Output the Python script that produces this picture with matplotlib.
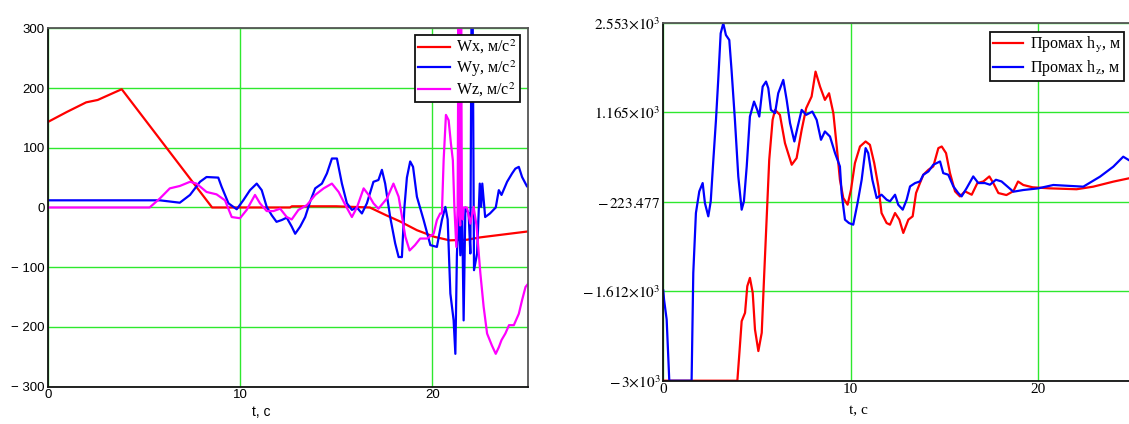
import matplotlib
matplotlib.use("Agg")
import matplotlib.pyplot as plt

plt.rcParams['mathtext.fontset'] = 'stix'

# ---- left plot: W components, м/с^2 ----
t_wx = [0, 1, 2, 2.6, 3.85, 8.55, 12.6, 12.7, 15.0, 16.75, 17.6, 18.3, 19.2, 20.1,
        20.9, 21.8, 22.5, 23.5, 25]
wx = [143, 160, 176, 180, 198, 0, 0, 2, 2, 0, -13, -23, -38, -49,
      -55, -54, -50, -46, -40]

t_wy = [0, 5.3, 5.83, 6.87, 7.4, 7.92, 8.26, 8.87, 9.04, 9.4, 9.83, 10.17, 10.52,
        10.87, 11.13, 11.39, 11.65, 11.9, 12.17, 12.43, 12.69, 12.87, 13.13, 13.39,
        13.65, 13.91, 14.26, 14.52, 14.78, 15.04, 15.3, 15.56, 15.82, 16.08, 16.34,
        16.6, 16.94, 17.2, 17.38, 17.55, 17.81, 18.07, 18.25, 18.42, 18.55, 18.68,
        18.85, 19.0, 19.2, 19.55, 19.9, 20.24, 20.5, 20.68, 20.8, 20.94, 21.11, 21.2,
        21.28, 21.37, 21.46, 21.55, 21.63, 21.72, 21.89, 21.98, 22.04, 22.1, 22.17,
        22.33, 22.47, 22.54, 22.6, 22.75, 23.0, 23.3, 23.46, 23.6, 23.89, 24.15,
        24.32, 24.5, 24.67, 24.93, 25.0]
wy = [12, 12, 12, 8, 21, 43, 51, 50, 35, 7, -3, 12, 29,
      40, 29, 1, -13, -24, -21, -17, -32, -44, -32, -16,
      10, 32, 40, 57, 82, 82, 40, 7, -4, 0, -10,
      7, 43, 46, 63, 40, -16, -60, -83, -83, 0, 50,
      77, 68, 18, -21, -63, -66, -21, 1, -20, -144, -189, -245,
      -80, 0, -80, 0, -189, 0, -10, -77, 330, 330, -105,
      -77, 40, 1, 40, -16, -10, 0, 29, 21, 43, 57,
      65, 68, 51, 35, 38]

t_wz = [0, 5.3, 5.83, 6.35, 6.87, 7.4, 7.74, 8.26, 8.78, 9.22, 9.57, 10.0, 10.35,
        10.78, 11.04, 11.39, 11.74, 12.09, 12.43, 12.69, 13.04, 13.48, 13.91, 14.35,
        14.78, 15.13, 15.48, 15.82, 16.08, 16.43, 16.69, 16.94, 17.2, 17.64, 17.98,
        18.25, 18.6, 18.82, 19.1, 19.37, 19.72, 20.07, 20.24, 20.41, 20.5, 20.59,
        20.71, 20.85, 20.97, 21.07, 21.15, 21.25, 21.32, 21.36, 21.4, 21.45, 21.5,
        21.54, 21.58, 21.63, 21.8, 21.98, 22.15, 22.3, 22.5, 22.67, 22.85, 23.1,
        23.3, 23.46, 23.6, 23.8, 23.99, 24.24, 24.5, 24.67, 24.85, 25.0]
wz = [0, 0, 15, 32, 36, 43, 40, 26, 22, 12, -16, -18, -4,
      21, 7, -6, -6, -2, -16, -20, -4, 4, 21, 32,
      40, 26, 4, -16, 0, 32, 21, 7, -2, 15, 40,
      18, -49, -72, -63, -52, -52, -44, -21, -10, -10, 79,
      155, 146, 107, 79, 0, -66, 0, 330, 0, -30, 330,
      0, -20, 0, 0, -27, 1, -30, -110, -166, -211, -231,
      -245, -234, -222, -211, -197, -197, -178, -155, -133, -127]

left_yticks = [-300, -200, -100, 0, 100, 200, 300]
left_yticklabels = ['\u2212 300', '\u2212 200', '\u2212 100', '0', '100', '200', '300']

# ---- right plot: misses h_y, h_z, м ----
t_hy = [0, 3.95, 4.06, 4.18, 4.36, 4.48, 4.62, 4.77, 4.89, 5.07, 5.25, 5.37, 5.51,
        5.65, 5.83, 5.96, 6.22, 6.49, 6.85, 7.11, 7.38, 7.62, 7.91, 8.12, 8.36,
        8.62, 8.84, 9.07, 9.25, 9.42, 9.6, 9.83, 10.01, 10.22, 10.49, 10.79, 11.02,
        11.25, 11.47, 11.64, 11.91, 12.09, 12.36, 12.59, 12.8, 13.07, 13.3, 13.48,
        13.69, 13.87, 14.14, 14.4, 14.67, 14.85, 15.08, 15.29, 15.56, 15.82, 16.09,
        16.45, 16.75, 17.07, 17.39, 17.6, 17.87, 18.3, 18.67, 18.92, 19.2, 19.7,
        20.6, 22.04, 22.93, 24.0, 24.84, 25.0]
hy = [-3000, -3000, -2566, -2076, -1947, -1534, -1405, -1637, -2205, -2540, -2257, -1431, -502,
      427, 1046, 1201, 1124, 685, 350, 453, 891, 1227, 1408, 1795, 1562,
      1356, 1459, 1150, 633, 117, -166, -270, -38, 375, 633, 711, 659,
      375, 14, -399, -554, -580, -399, -502, -708, -502, -450, -89,
      66, 195, 272, 324, 608, 633, 530, 220, -63, -141, -63,
      -115, 66, 91, 169, 66, -89, -120, -60, 90, 36, 0,
      -16, -30, 10, 88, 140, 150]

t_hz = [0, 0.04, 0.18, 0.32, 1.51, 1.6, 1.74, 1.92, 2.1, 2.22, 2.4, 2.53, 2.67,
        2.81, 2.93, 3.06, 3.2, 3.34, 3.52, 3.64, 3.82, 4.0, 4.18, 4.3, 4.45, 4.62,
        4.84, 5.01, 5.12, 5.3, 5.48, 5.6, 5.74, 5.96, 6.13, 6.4, 6.58, 6.76, 6.99,
        7.17, 7.38, 7.62, 7.95, 8.18, 8.41, 8.62, 8.89, 9.16, 9.42, 9.51, 9.69,
        9.9, 10.13, 10.36, 10.58, 10.79, 10.93, 11.15, 11.38, 11.64, 11.91, 12.09,
        12.36, 12.53, 12.77, 12.98, 13.16, 13.43, 13.69, 13.87, 14.14, 14.4, 14.76,
        14.93, 15.2, 15.47, 15.73, 15.91, 16.18, 16.53, 16.8, 17.15, 17.42, 17.74,
        18.04, 18.67, 19.2, 20.0, 20.8, 22.4, 23.29, 24.0, 24.53, 24.84, 25.0]
hz = [-1600, -1741, -2050, -3000, -3000, -1328, -399, -63, 66, -244, -450, -218, 427,
      1046, 1666, 2388, 2543, 2362, 2285, 1820, 1046, 169, -347, -218, 324, 1098,
      1330, 1201, 1098, 1562, 1640, 1537, 1201, 1150, 1459, 1666, 1356, 995, 711,
      943, 1201, 1124, 1175, 1046, 737, 866, 788, 530, 324, -89, -502,
      -554, -580, -244, 117, 608, 530, 117, -166, -115, -192, -218,
      -115, -270, -347, -192, 14, 66, 91, 195, 246, 350, 401,
      220, 195, 14, -89, -141, -12, 169, 66, 66, 40, 117,
      91, -68, -42, -16, 36, 10, 165, 320, 475, 420, 400]

right_yticks = [-3000, -1611.75, -223.5, 1164.75, 2553]
right_yticklabels = [r'$-\,3{\times}10^{3}$', r'$-\,1.612{\times}10^{3}$',
                     r'$-\,223.477$', r'$1.165{\times}10^{3}$', r'$2.553{\times}10^{3}$']

xticks = [0, 10, 20]

fig = plt.figure(figsize=(11.29, 4.24), dpi=100)

grid_color = '#2ee82e'


def style_axes(ax):
    ax.grid(True, color=grid_color, linewidth=1.0)
    ax.set_axisbelow(True)
    ax.tick_params(length=0)
    for side in ['top', 'right']:
        ax.spines[side].set_color('#555555')
        ax.spines[side].set_linewidth(1.3)
    for side in ['left', 'bottom']:
        ax.spines[side].set_color('#111111')
        ax.spines[side].set_linewidth(1.3)


# Left plot
ax1 = fig.add_axes([0.04225, 0.0880, 0.4258, 0.8453])
ax1.plot(t_wx, wx, color='#ff0000', linewidth=1.6, label='Wx, м/с$^{2}$')
ax1.plot(t_wy, wy, color='#0000ff', linewidth=1.6, label='Wy, м/с$^{2}$')
ax1.plot(t_wz, wz, color='#ff00ff', linewidth=1.6, label='Wz, м/с$^{2}$')
ax1.set_xlim(0, 25)
ax1.set_ylim(-300, 300)
ax1.set_xticks(xticks)
ax1.set_xticklabels([str(v) for v in xticks], family='Liberation Sans', fontsize=9.5)
ax1.set_yticks(left_yticks)
ax1.set_yticklabels(left_yticklabels, family='Liberation Sans', fontsize=9.5)
ax1.tick_params(axis='x', pad=2)
ax1.tick_params(axis='y', pad=2)
style_axes(ax1)
ax1.set_xlabel('t, c', family='Liberation Sans', fontsize=10)
ax1.xaxis.set_label_coords(0.444, -0.05)
leg1 = ax1.legend(loc='upper right', bbox_to_anchor=(0.9825, 0.9813), borderaxespad=0,
                  prop={'family': 'Liberation Serif', 'size': 11.5}, fancybox=False,
                  framealpha=1, edgecolor='#111111', handlelength=2.0,
                  handletextpad=0.4, labelspacing=0.12, borderpad=0.2)
leg1.get_frame().set_linewidth(1.3)

# Right plot
ax2 = fig.add_axes([0.5875, 0.1021, 0.4152, 0.8443])
ax2.plot(t_hy, hy, color='#ff0000', linewidth=1.6, label=r'Промах h$_{\mathrm{y}}$, м')
ax2.plot(t_hz, hz, color='#0000ff', linewidth=1.6, label=r'Промах h$_{\mathrm{z}}$, м')
ax2.set_xlim(0, 25)
ax2.set_ylim(-3000, 2553)
ax2.set_xticks(xticks)
ax2.set_xticklabels([str(v) for v in xticks], family='Liberation Serif', fontsize=11)
ax2.set_yticks(right_yticks)
ax2.set_yticklabels(right_yticklabels, fontsize=11)
ax2.tick_params(axis='x', pad=2)
ax2.tick_params(axis='y', pad=2)
style_axes(ax2)
ax2.set_xlabel('t, c', family='Liberation Serif', fontsize=11)
ax2.xaxis.set_label_coords(0.417, -0.066)
leg2 = ax2.legend(loc='upper right', bbox_to_anchor=(0.9827, 0.9749), borderaxespad=0,
                  prop={'family': 'Liberation Serif', 'size': 11.5}, fancybox=False,
                  framealpha=1, edgecolor='#111111', handlelength=1.9,
                  handletextpad=0.4, labelspacing=0.2, borderpad=0.2)
leg2.get_frame().set_linewidth(1.3)

fig.savefig('out.png', dpi=100)
